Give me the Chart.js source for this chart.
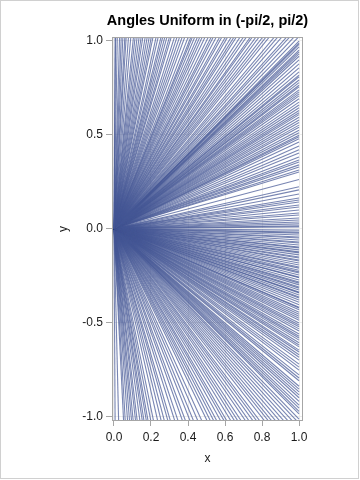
<!DOCTYPE html>
<html><head><meta charset="utf-8">
<script src="https://cdn.jsdelivr.net/npm/chart.js@4"></script>
<style>html,body{margin:0;padding:0;background:#fff}#wrap{width:360px;height:480px;position:relative}canvas{display:block}</style>
</head><body><div id="wrap"><canvas id="c" width="360" height="480"></canvas></div>
<script>
const chartTitle = 'Angles Uniform in (-pi/2, pi/2)';
const xAxisTitle = 'x';
const yAxisTitle = 'y';
const xTickValues = [0, 0.2, 0.4, 0.6, 0.8, 1.0];
const yTickValues = [-1.0, -0.5, 0.0, 0.5, 1.0];
// angles in degrees, read from where each ray leaves the frame
const anglesTop = [89.7, 89.5, 89.0, 88.3, 87.8, 87.3, 86.7, 86.3, 85.6, 84.9, 84.1, 83.6, 83.0, 82.4, 81.8, 81.3, 80.6, 80.0, 79.4, 78.8, 78.3, 77.4, 76.8, 76.0, 75.5, 74.9, 74.3, 73.6, 73.1, 72.2, 71.5, 70.8, 70.1, 69.4, 68.5, 67.8, 67.4, 66.8, 66.1, 65.5, 64.9, 64.2, 63.4, 62.7, 62.2, 61.5, 60.7, 60.2, 59.4, 58.9, 58.1, 57.5, 57.0, 56.2, 55.5, 54.9, 54.1, 53.7, 53.0, 52.4, 51.7, 51.1, 50.5, 49.6, 49.0, 48.3, 47.5, 47.0, 46.3, 45.6];
const anglesRight = [44.9, 44.6, 44.4, 44.0, 43.5, 43.2, 42.9, 42.5, 41.9, 41.2, 40.5, 39.8, 39.2, 38.9, 38.3, 37.8, 37.3, 37.0, 36.4, 36.0, 35.6, 35.2, 34.6, 33.9, 33.3, 32.7, 32.1, 31.6, 31.2, 30.6, 30.0, 29.4, 28.8, 28.3, 27.6, 27.0, 26.4, 26.0, 25.5, 24.7, 23.7, 22.7, 21.9, 20.8, 20.0, 19.5, 18.7, 18.1, 17.3, 16.7, 14.6, 12.5, 11.6, 10.4, 9.2, 8.6, 8.0, 7.1, 6.5, 5.6, 4.7, 4.1, 3.2, 2.6, 2.0, 1.4, 0.8, 0.5, -0.5, -1.1, -1.4, -2.0, -2.6, -2.9, -3.5, -4.1, -4.4, -5.0, -5.6, -5.9, -6.5, -7.1, -7.4, -8.0, -8.6, -8.9, -9.5, -9.8, -10.4, -11.0, -11.6, -11.9, -12.5, -13.0, -13.3, -13.9, -14.5, -14.7, -15.3, -15.9, -16.2, -16.7, -17.3, -17.6, -18.1, -18.7, -18.9, -19.5, -20.0, -20.3, -20.8, -21.4, -22.1, -22.7, -22.9, -23.4, -24.0, -24.5, -25.0, -25.5, -26.0, -26.7, -27.2, -27.6, -28.1, -28.6, -29.3, -29.8, -30.2, -30.7, -31.3, -31.8, -32.2, -32.9, -33.3, -33.9, -34.4, -35.0, -35.8, -36.4, -37.0, -37.9, -38.5, -39.0, -40.0, -40.5, -41.0, -41.5, -42.0, -42.6, -43.2, -43.7, -44.2, -44.6];
const anglesBottom = [-89.7, -88.6, -87.1, -86.6, -85.9, -85.3, -84.7, -84.2, -83.5, -83.0, -82.2, -81.5, -81.0, -80.3, -79.8, -79.0, -78.2, -77.0, -76.0, -75.1, -74.1, -73.4, -72.2, -71.3, -70.1, -69.3, -68.1, -67.2, -66.1, -65.1, -63.8, -63.0, -62.2, -61.5, -60.6, -59.8, -59.2, -58.3, -57.5, -56.8, -56.1, -55.2, -54.5, -53.7, -53.0, -52.4, -51.5, -50.8, -50.2, -49.5, -48.8, -48.1, -47.4, -46.7, -46.0, -45.4];

const FONT = "'Liberation Sans', Arial, sans-serif";
const allAngles = anglesTop.concat(anglesRight, anglesBottom);
const datasets = allAngles.map(a => ({
  data: [{x: 0, y: 0}, {x: 1, y: Math.tan(a * Math.PI / 180)}],
  showLine: true,
  borderColor: 'rgba(68,86,148,0.72)',
  borderWidth: 1.1,
  pointRadius: 0,
  fill: false
}));

const decor = {
  id: 'decor',
  beforeDraw(chart) {
    const c = chart.ctx;
    c.save(); c.fillStyle = '#fff'; c.fillRect(0, 0, chart.width, chart.height); c.restore();
  },
  afterDatasetsDraw(chart) {
    const c = chart.ctx, a = chart.chartArea;
    c.save();
    c.strokeStyle = '#a6a6a6'; c.lineWidth = 1;
    c.strokeRect(Math.round(a.left) + 0.5, Math.round(a.top) + 0.5, Math.round(a.right - a.left) - 1, Math.round(a.bottom - a.top) - 1);
    c.restore();
  },
  afterDraw(chart) {
    const c = chart.ctx, a = chart.chartArea;
    c.save();
    c.fillStyle = '#000';
    c.font = 'bold 14.5px ' + FONT;
    c.textAlign = 'center'; c.textBaseline = 'alphabetic';
    c.fillText(chartTitle, (a.left + a.right) / 2, 25);
    c.strokeStyle = '#d0d0d0'; c.lineWidth = 1;
    c.strokeRect(0.5, 0.5, 358, 478);
    c.restore();
  }
};

new Chart(document.getElementById('c'), {
  type: 'scatter',
  data: { datasets },
  plugins: [decor],
  options: {
    responsive: false,
    animation: false,
    devicePixelRatio: 1,
    events: [],
    layout: { padding: { left: 0, right: 57, top: 37, bottom: 0 } },
    plugins: { legend: { display: false }, tooltip: { enabled: false }, title: { display: false } },
    scales: {
      x: {
        type: 'linear', min: -0.0108, max: 1.0216,
        afterBuildTicks: s => { s.ticks = xTickValues.map(v => ({ value: v })); },
        afterFit: s => { s.height = 59; },
        ticks: { callback: v => Number(v).toFixed(1), font: { family: FONT, size: 12 }, color: '#1a1a1a', padding: 4, maxRotation: 0, autoSkip: false },
        grid: { color: '#ececec', tickColor: '#a6a6a6', tickLength: 5, drawTicks: true },
        border: { display: false },
        title: { display: true, text: xAxisTitle, font: { family: FONT, size: 12 }, color: '#1a1a1a', padding: { top: 0, bottom: 14 } }
      },
      y: {
        type: 'linear', min: -1.024, max: 1.0186,
        afterBuildTicks: s => { s.ticks = yTickValues.map(v => ({ value: v })); },
        afterFit: s => { s.width = 112; },
        ticks: { callback: v => Number(v).toFixed(1), font: { family: FONT, size: 12 }, color: '#1a1a1a', padding: 3, autoSkip: false },
        grid: { color: '#ececec', tickColor: '#a6a6a6', tickLength: 6, drawTicks: true },
        border: { display: false },
        title: { display: true, text: yAxisTitle, font: { family: FONT, size: 12 }, color: '#1a1a1a', padding: { top: 56, bottom: 0 } }
      }
    }
  }
});
</script></body></html>
